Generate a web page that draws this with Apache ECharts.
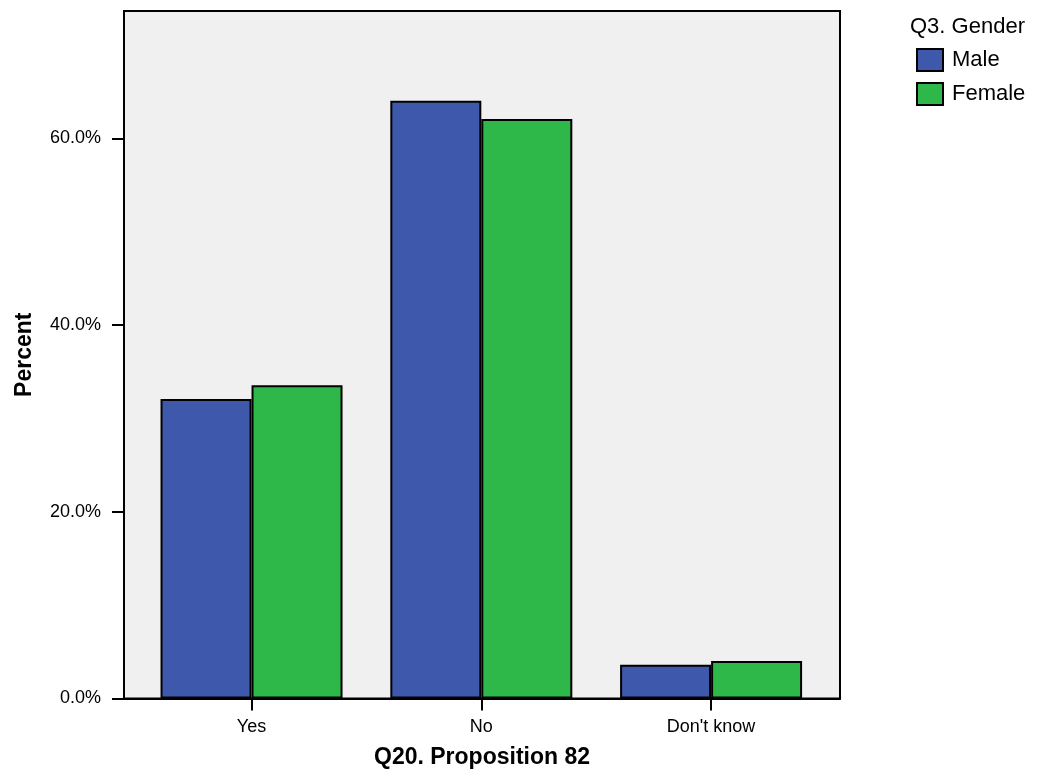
<!DOCTYPE html>
<html>
<head>
<meta charset="utf-8">
<script src="https://cdn.jsdelivr.net/npm/echarts@6/dist/echarts.min.js"></script>
<style>html,body{margin:0;padding:0;background:#fff;}#c{width:1042px;height:780px;}</style>
</head>
<body>
<div id="c"></div>
<script>
var categories = ['Yes', 'No', "Don't know"];
var seriesNames = ['Male', 'Female'];
var maleValues = [32.1, 64.05, 3.62];
var femaleValues = [33.56, 62.1, 4.02];
var yTicks = [0, 20, 40, 60];
var catPositions = [0, 1, 2];

var FONT = 'Liberation Sans, Arial, sans-serif';
var chart = echarts.init(document.getElementById('c'), null, {renderer: 'canvas'});

function toPoints(vals) { return vals.map(function (v, i) { return [catPositions[i], v]; }); }

var option = {
  animation: false,
  backgroundColor: '#ffffff',
  textStyle: {fontFamily: FONT, color: '#000'},
  grid: {
    left: 124, right: 202, top: 11, bottom: 81.5,
    show: true, backgroundColor: '#f0f0f0', borderColor: '#000', borderWidth: 2,
    containLabel: false
  },
  graphic: [{
    type: 'text', left: 910, top: 16,
    style: {text: 'Q3. Gender', fontSize: 22, fontFamily: FONT, fill: '#000'}
  }],
  legend: {
    orient: 'vertical', left: 916, top: 48, padding: 0,
    itemWidth: 26, itemHeight: 22, itemGap: 10,
    icon: 'rect',
    data: seriesNames,
    textStyle: {fontSize: 22, fontFamily: FONT, color: '#000', padding: [0, 0, 0, 4]},
    itemStyle: {borderColor: '#000', borderWidth: 2}
  },
  xAxis: {
    type: 'value', min: -0.555, max: 2.561,
    name: 'Q20. Proposition 82', nameLocation: 'middle', nameGap: 48,
    nameTextStyle: {fontSize: 23, fontWeight: 'bold', fontFamily: FONT, color: '#000'},
    axisLine: {show: true, onZero: false, lineStyle: {color: '#000', width: 2}},
    axisTick: {show: true, length: 12, customValues: catPositions, lineStyle: {color: '#000', width: 2}},
    axisLabel: {
      fontSize: 18, color: '#000', fontFamily: FONT, margin: 20,
      customValues: catPositions,
      formatter: function (v) { return categories[Math.round(v)]; }
    },
    splitLine: {show: false}
  },
  yAxis: {
    type: 'value', min: 0, max: 73.66, interval: 20,
    name: 'Percent', nameLocation: 'middle', nameGap: 88, nameRotate: 90,
    nameTextStyle: {fontSize: 23, fontWeight: 'bold', fontFamily: FONT, color: '#000'},
    axisLine: {show: true, onZero: false, lineStyle: {color: '#000', width: 2}},
    axisTick: {show: true, length: 12, customValues: yTicks, lineStyle: {color: '#000', width: 2}},
    axisLabel: {
      fontSize: 18, color: '#000', fontFamily: FONT, margin: 23,
      padding: [6, 0, 0, 0],
      customValues: yTicks,
      formatter: function (v) { return v.toFixed(1) + '%'; }
    },
    splitLine: {show: false}
  },
  series: [
    {
      name: seriesNames[0], type: 'bar', barWidth: 91, barGap: '0%',
      data: toPoints(maleValues),
      itemStyle: {color: '#3e58ac', borderColor: '#000', borderWidth: 2}
    },
    {
      name: seriesNames[1], type: 'bar', barWidth: 91, barGap: '0%',
      data: toPoints(femaleValues),
      itemStyle: {color: '#2fb84a', borderColor: '#000', borderWidth: 2}
    }
  ]
};
chart.setOption(option);
</script>
</body>
</html>
